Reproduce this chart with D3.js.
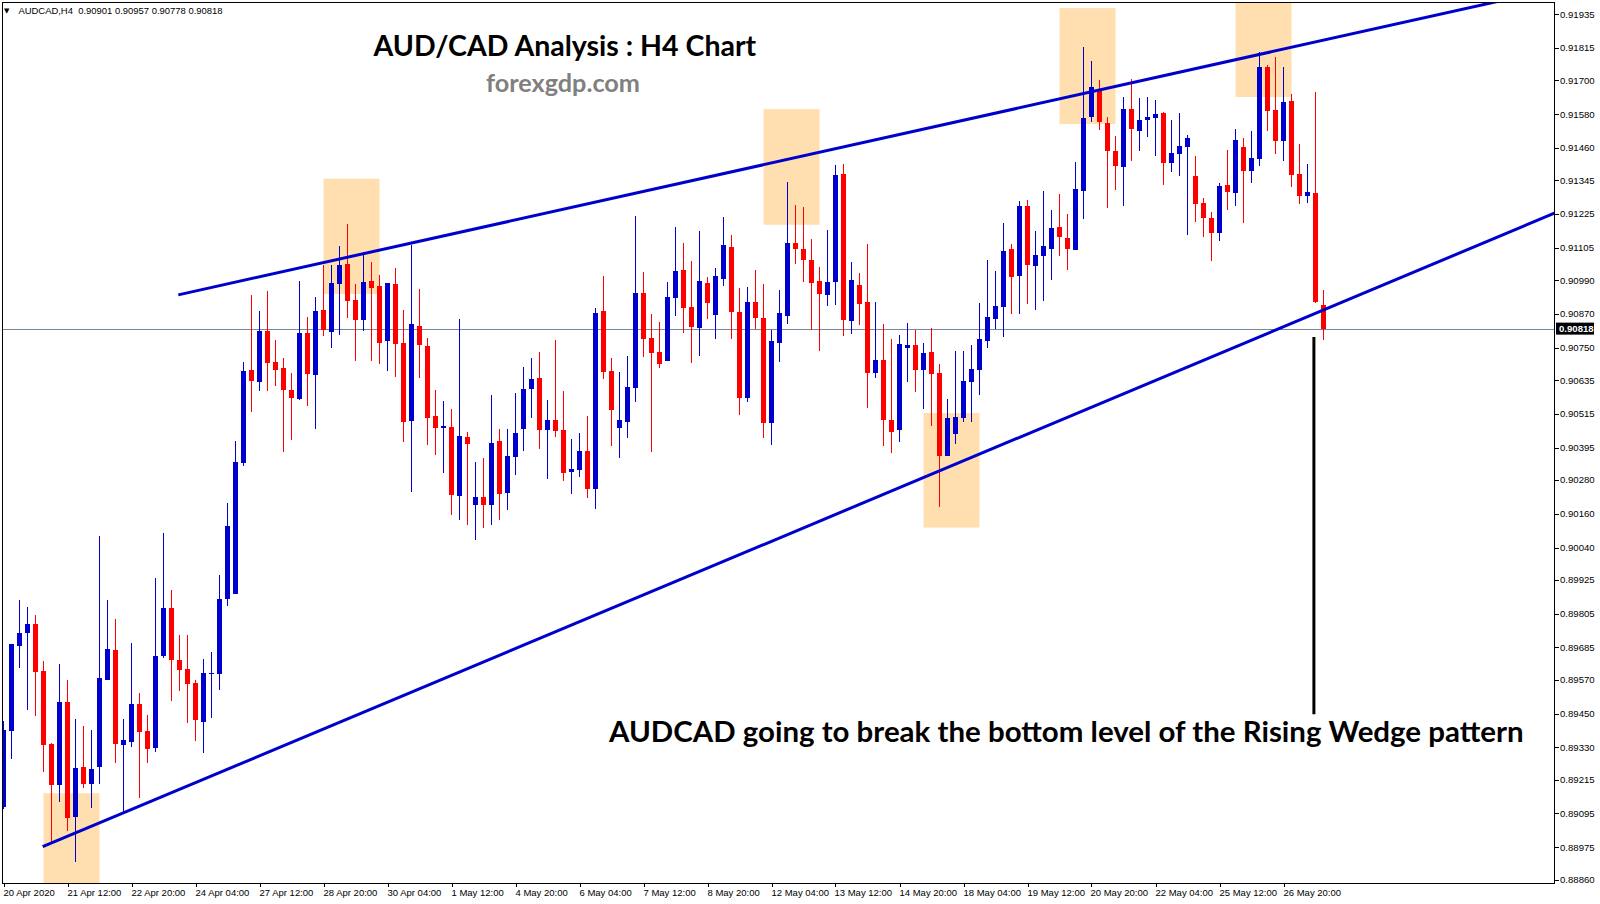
<!DOCTYPE html>
<html><head><meta charset="utf-8">
<script src="https://cdn.jsdelivr.net/npm/d3@7"></script>
<style>html,body{margin:0;padding:0;background:#fff;overflow:hidden}</style>
</head><body>
<svg id="c" width="1600" height="904"></svg>
<script>
const headerText = "AUDCAD,H4  0.90901 0.90957 0.90778 0.90818";
const titleText = "AUD/CAD Analysis : H4 Chart";
const siteText = "forexgdp.com";
const noteText = "AUDCAD going to break the bottom level of the Rising Wedge pattern";

const tickLabels = ["20 Apr 2020","21 Apr 12:00","22 Apr 20:00","24 Apr 04:00","27 Apr 12:00","28 Apr 20:00","30 Apr 04:00","1 May 12:00","4 May 20:00","6 May 04:00","7 May 12:00","8 May 20:00","12 May 04:00","13 May 12:00","14 May 20:00","18 May 04:00","19 May 12:00","20 May 20:00","22 May 04:00","25 May 12:00","26 May 20:00"];
const tickBars = [0,8,16,24,32,40,48,56,64,72,80,88,96,104,112,120,128,136,144,152,160];
const priceTicks = [0.91935,0.91815,0.91700,0.91580,0.91460,0.91345,0.91225,0.91105,0.90990,0.90870,0.90750,0.90635,0.90515,0.90395,0.90280,0.90160,0.90040,0.89925,0.89805,0.89685,0.89570,0.89450,0.89330,0.89215,0.89095,0.88975,0.88860];

const open = [0.89118,0.89388,0.89690,0.89736,0.89768,0.89601,0.89342,0.89196,0.89491,0.89082,
0.89260,0.89199,0.89260,0.89569,0.89676,0.89338,0.89349,0.89484,0.89388,0.89327,
0.89654,0.89825,0.89640,0.89608,0.89558,0.89420,0.89590,0.89590,0.89857,0.89875,
0.90340,0.90671,0.90628,0.90809,0.90699,0.90678,0.90600,0.90568,0.90802,0.90653,
0.90884,0.90806,0.90976,0.91047,0.90920,0.90849,0.90987,0.90969,0.90774,0.90976,
0.90767,0.90490,0.90827,0.90756,0.90507,0.90465,0.90468,0.90223,0.90433,0.90191,
0.90220,0.90191,0.90419,0.90234,0.90362,0.90461,0.90603,0.90642,0.90458,0.90493,
0.90458,0.90308,0.90315,0.90383,0.90248,0.90881,0.90667,0.90465,0.90486,0.90607,
0.90945,0.90785,0.90735,0.90703,0.90927,0.91026,0.90895,0.90820,0.90980,0.90866,
0.90994,0.91108,0.90877,0.90571,0.90912,0.90856,0.90482,0.90767,0.90863,0.91122,
0.91101,0.91062,0.90987,0.90937,0.90984,0.91367,0.90845,0.90973,0.90912,0.90660,
0.90706,0.90493,0.90458,0.90749,0.90760,0.90671,0.90735,0.90660,0.90365,0.90443,
0.90500,0.90628,0.90671,0.90774,0.90852,0.90895,0.91101,0.91005,0.91254,0.91040,
0.91076,0.91101,0.91179,0.91140,0.91097,0.91307,0.91570,0.91670,0.91549,0.91449,
0.91392,0.91598,0.91520,0.91559,0.91566,0.91584,0.91406,0.91438,0.91463,0.91360,
0.91264,0.91211,0.91158,0.91328,0.91300,0.91463,0.91378,0.91421,0.91748,0.91595,
0.91485,0.91627,0.91367,0.91289,0.91300,0.90901];
const high = [0.89423,0.89697,0.89853,0.89828,0.89800,0.89637,0.89345,0.89626,0.89569,0.89430,
0.89406,0.89391,0.90081,0.89853,0.89786,0.89430,0.89701,0.89523,0.89445,0.89932,
0.90092,0.89889,0.89729,0.89729,0.89569,0.89644,0.89669,0.89942,0.90198,0.90419,
0.90699,0.90937,0.90881,0.90952,0.90777,0.90713,0.90660,0.90987,0.90859,0.90930,
0.91044,0.91044,0.91111,0.91190,0.90976,0.91090,0.91055,0.91008,0.90980,0.91033,
0.90884,0.91115,0.90959,0.90785,0.90600,0.90561,0.90532,0.90852,0.90450,0.90344,
0.90358,0.90582,0.90461,0.90461,0.90589,0.90682,0.90713,0.90735,0.90564,0.90777,
0.90596,0.90426,0.90447,0.90507,0.90891,0.91005,0.90713,0.90664,0.90721,0.91218,
0.91019,0.90870,0.90841,0.90984,0.91179,0.91122,0.91058,0.91165,0.91001,0.91033,
0.91215,0.91151,0.90962,0.90966,0.91026,0.90976,0.90813,0.90955,0.91339,0.91257,
0.91250,0.91136,0.91037,0.91168,0.91399,0.91403,0.91055,0.91016,0.91119,0.90912,
0.90834,0.90781,0.90795,0.90838,0.90813,0.90767,0.90820,0.90692,0.90568,0.90738,
0.90738,0.90760,0.90909,0.91062,0.91023,0.91193,0.91119,0.91271,0.91275,0.91165,
0.91307,0.91239,0.91296,0.91225,0.91410,0.91819,0.91769,0.91702,0.91570,0.91503,
0.91641,0.91705,0.91638,0.91641,0.91630,0.91588,0.91559,0.91584,0.91506,0.91431,
0.91282,0.91232,0.91335,0.91453,0.91527,0.91495,0.91520,0.91801,0.91755,0.91783,
0.91748,0.91652,0.91474,0.91403,0.91659,0.90957];
const low = [0.89111,0.89288,0.89612,0.89462,0.89441,0.89242,0.88990,0.89135,0.89032,0.88922,
0.89185,0.89114,0.89199,0.89569,0.89274,0.89100,0.89331,0.89150,0.89274,0.89313,
0.89647,0.89494,0.89530,0.89416,0.89352,0.89310,0.89434,0.89534,0.89832,0.89875,
0.90330,0.90522,0.90596,0.90596,0.90614,0.90379,0.90422,0.90564,0.90543,0.90461,
0.90792,0.90749,0.90795,0.90856,0.90703,0.90809,0.90703,0.90692,0.90667,0.90646,
0.90415,0.90237,0.90642,0.90404,0.90369,0.90305,0.90155,0.90138,0.90120,0.90067,
0.90109,0.90120,0.90138,0.90173,0.90298,0.90383,0.90500,0.90390,0.90283,0.90433,
0.90276,0.90230,0.90290,0.90216,0.90177,0.90639,0.90401,0.90358,0.90429,0.90557,
0.90717,0.90379,0.90678,0.90703,0.90863,0.90802,0.90696,0.90721,0.90852,0.90781,
0.90969,0.90781,0.90511,0.90557,0.90817,0.90429,0.90404,0.90699,0.90834,0.91047,
0.90984,0.90813,0.90738,0.90898,0.90902,0.90792,0.90799,0.90831,0.90536,0.90642,
0.90401,0.90376,0.90415,0.90628,0.90593,0.90532,0.90472,0.90184,0.90365,0.90408,
0.90486,0.90486,0.90582,0.90749,0.90817,0.90788,0.90870,0.90870,0.90905,0.90884,
0.90916,0.90991,0.91076,0.91026,0.91097,0.91208,0.91552,0.91524,0.91247,0.91311,
0.91254,0.91414,0.91449,0.91499,0.91431,0.91328,0.91375,0.91360,0.91151,0.91197,
0.91144,0.91058,0.91129,0.91239,0.91254,0.91193,0.91335,0.91396,0.91520,0.91438,
0.91414,0.91321,0.91261,0.91264,0.90909,0.90778];
const close = [0.89391,0.89697,0.89736,0.89768,0.89597,0.89338,0.89196,0.89491,0.89079,0.89256,
0.89199,0.89253,0.89576,0.89679,0.89342,0.89356,0.89484,0.89384,0.89324,0.89654,
0.89825,0.89640,0.89605,0.89555,0.89427,0.89594,0.89594,0.89857,0.90116,0.90344,
0.90667,0.90632,0.90809,0.90696,0.90671,0.90600,0.90571,0.90802,0.90657,0.90881,
0.90813,0.90980,0.91044,0.90916,0.90849,0.90984,0.90962,0.90767,0.90980,0.90763,
0.90486,0.90834,0.90760,0.90500,0.90465,0.90472,0.90227,0.90436,0.90408,0.90220,
0.90191,0.90411,0.90230,0.90365,0.90447,0.90603,0.90639,0.90458,0.90493,0.90454,
0.90305,0.90319,0.90383,0.90248,0.90873,0.90664,0.90529,0.90493,0.90610,0.90945,
0.90781,0.90731,0.90692,0.90930,0.91023,0.90891,0.90824,0.90987,0.90909,0.91005,
0.91115,0.90877,0.90571,0.90912,0.90856,0.90482,0.90774,0.90873,0.91122,0.91101,
0.91062,0.90980,0.90941,0.90984,0.91364,0.90849,0.90991,0.90905,0.90660,0.90706,
0.90493,0.90450,0.90763,0.90760,0.90671,0.90731,0.90657,0.90365,0.90500,0.90504,
0.90632,0.90674,0.90781,0.90859,0.90898,0.91094,0.91001,0.91254,0.91044,0.91080,
0.91111,0.91175,0.91144,0.91101,0.91314,0.91566,0.91677,0.91552,0.91449,0.91396,
0.91598,0.91527,0.91559,0.91570,0.91581,0.91406,0.91442,0.91467,0.91495,0.91261,
0.91211,0.91158,0.91325,0.91303,0.91488,0.91378,0.91424,0.91748,0.91591,0.91485,
0.91623,0.91364,0.91289,0.91303,0.90912,0.90818];

const lastPrice = 0.90818;
// trend lines: [barIndex, price] anchors, drawn as rays to the right
const upperLine = [[21.85, 0.90938], [186.19, 0.91977]];
const lowerLine = [[4.9, 0.88977], [188.31, 0.91162]];
// highlight zones: [fromBar, toBar, topPrice, bottomPrice]
const zones = [[5,12,0.89167,0.88848],[40,47,0.91351,0.90941],[95,102,0.91598,0.91187],[132,139,0.91957,0.91545],[154,161,0.91995,0.91641],[115,122,0.90518,0.90111]];
// annotation marker: [bar, topPrice, bottomPrice]
const marker = [163.8, 0.90788, 0.89448];

const L = 2, T = 2, R = 1555, B = 883;
const svg = d3.select("#c");
svg.append("rect").attr("width",1600).attr("height",904).attr("fill","#fff");

const x = d3.scaleLinear().domain([0, 165]).range([3.5, 1323.5]);
const y = d3.scaleLinear().domain([0.88860, 0.91935]).range([879.6, 14.3]);

svg.append("defs").append("clipPath").attr("id","plot")
  .append("rect").attr("x",L).attr("y",T).attr("width",R-L).attr("height",B-T);
const plot = svg.append("g").attr("clip-path","url(#plot)");

// zones
plot.selectAll(".zone").data(zones).join("rect")
  .attr("x", d=>x(d[0])).attr("width", d=>x(d[1])-x(d[0]))
  .attr("y", d=>y(d[2])).attr("height", d=>y(d[3])-y(d[2]))
  .attr("fill","#FFDFAF");

// current price line
plot.append("line").attr("x1",L).attr("x2",R)
  .attr("y1",Math.round(y(lastPrice))+0.5).attr("y2",Math.round(y(lastPrice))+0.5)
  .attr("stroke","#778899").attr("stroke-width",1);

// candles
const BLUE = "#0000cc", RED = "#ff0000";
const bars = open.map((o,i)=>({i, o, h:high[i], l:low[i], c:close[i]}));
const cg = plot.append("g").attr("shape-rendering","crispEdges");
cg.selectAll(".wick").data(bars).join("rect")
  .attr("x", d=>x(d.i)-0.5).attr("width",1)
  .attr("y", d=>y(d.h)).attr("height", d=>Math.max(1, y(d.l)-y(d.h)))
  .attr("fill", d=>d.c>=d.o?BLUE:RED);
cg.selectAll(".body").data(bars).join("rect")
  .attr("x", d=>x(d.i)-2.5).attr("width",5)
  .attr("y", d=>y(Math.max(d.o,d.c))).attr("height", d=>Math.max(1, Math.abs(y(d.o)-y(d.c))))
  .attr("fill", d=>d.c>=d.o?BLUE:RED);

// trend rays
function ray(pts){
  const x1=x(pts[0][0]), y1=y(pts[0][1]), x2=x(pts[1][0]), y2=y(pts[1][1]);
  const k=(y2-y1)/(x2-x1);
  const xe = R+10;
  return [[x1,y1],[xe, y1+k*(xe-x1)]];
}
[upperLine, lowerLine].forEach(p=>{
  const r = ray(p);
  plot.append("line").attr("x1",r[0][0]).attr("y1",r[0][1]).attr("x2",r[1][0]).attr("y2",r[1][1])
    .attr("stroke",BLUE).attr("stroke-width",3);
});

// marker line
plot.append("line").attr("x1",x(marker[0])).attr("x2",x(marker[0]))
  .attr("y1",y(marker[1])).attr("y2",y(marker[2]))
  .attr("stroke","#000").attr("stroke-width",3);

// frame
svg.append("rect").attr("x",L+0.5).attr("y",T+0.5).attr("width",R-L-1).attr("height",B-T)
  .attr("fill","none").attr("stroke","#000").attr("stroke-width",1).attr("shape-rendering","crispEdges");

const AX = "'Liberation Sans', Arial, sans-serif";
// y axis ticks/labels
const yg = svg.append("g");
priceTicks.forEach(p=>{
  const yy = Math.round(y(p))+0.5;
  yg.append("line").attr("x1",R).attr("x2",R+4).attr("y1",yy).attr("y2",yy).attr("stroke","#000").attr("shape-rendering","crispEdges");
  yg.append("text").attr("x",R+5).attr("y",y(p)+3.4).attr("font-family",AX).attr("font-size",9.6).attr("fill","#000").text(p.toFixed(5));
});
// current price label
const ly = y(lastPrice);
svg.append("rect").attr("x",R+1).attr("y",ly-6).attr("width",38).attr("height",12).attr("fill","#000");
svg.append("text").attr("x",R+4).attr("y",ly+3.5).attr("font-family",AX).attr("font-size",9.6).attr("fill","#fff").attr("font-weight","bold").text(lastPrice.toFixed(5));

// x axis ticks/labels
const xg = svg.append("g");
tickBars.forEach((b,k)=>{
  const xx = Math.round(x(b))+0.5;
  xg.append("line").attr("x1",xx).attr("x2",xx).attr("y1",B).attr("y2",B+4).attr("stroke","#000").attr("shape-rendering","crispEdges");
  xg.append("text").attr("x",xx-1).attr("y",895.5).attr("font-family",AX).attr("font-size",9.5).attr("fill","#000").text(tickLabels[k]);
});

// header
svg.append("text").attr("x",4).attr("y",12.5).attr("font-family","'DejaVu Sans',sans-serif").attr("font-size",7).attr("fill","#000").text("\u25BC");
svg.append("text").attr("x",18.4).attr("y",13.6).attr("font-family",AX).attr("font-size",9.45).attr("fill","#000")
  .attr("xml:space","preserve").style("white-space","pre").text(headerText);

// titles
const TF = "Lato, 'Open Sans', sans-serif";
function fit(sel, w){ const cur=sel.node().getComputedTextLength(); const fs=parseFloat(sel.attr("font-size")); sel.attr("font-size", fs*w/cur); }
const t1 = svg.append("text").attr("x",373.5).attr("y",56).attr("font-family",TF).attr("font-weight",700).attr("font-size",30).attr("fill","#000").text(titleText);
fit(t1, 383);
const t2 = svg.append("text").attr("x",486).attr("y",91.5).attr("font-family",TF).attr("font-weight",700).attr("font-size",24).attr("fill","#808080").text(siteText);
fit(t2, 154);
const t3 = svg.append("text").attr("x",609).attr("y",742).attr("font-family",TF).attr("font-weight",700).attr("font-size",30).attr("fill","#000").text(noteText);
fit(t3, 915);
</script>
</body></html>
